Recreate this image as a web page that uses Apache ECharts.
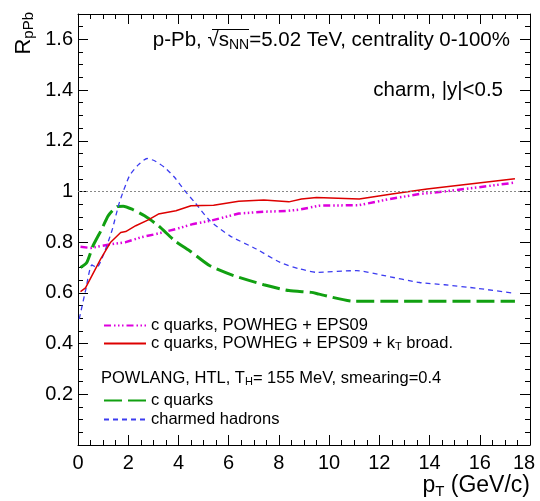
<!DOCTYPE html>
<html>
<head>
<meta charset="utf-8">
<script src="https://cdn.jsdelivr.net/npm/echarts@6/dist/echarts.min.js"></script>
<style>html,body{margin:0;padding:0;background:#fff;}#c{width:540px;height:501px;}</style>
</head>
<body>
<div id="c"></div>
<script>
// ---- data ----
var xTicks = [0, 2, 4, 6, 8, 10, 12, 14, 16, 18];
var yTicks = [0.2, 0.4, 0.6, 0.8, 1.0, 1.2, 1.4, 1.6];

var redPt = [0.1,0.3,0.9,1.3,1.7,1.9,2.3,2.8,3.2,3.9,4.5,5.4,6.4,7.4,8.4,8.9,9.5,11.2,12.5,13.9,17.4];
var redR  = [0.605,0.62,0.733,0.80,0.838,0.842,0.865,0.888,0.911,0.924,0.944,0.946,0.961,0.966,0.959,0.970,0.976,0.970,0.99,1.01,1.05];

var magPt = [0.1,0.5,1.2,1.9,2.5,3.1,3.9,4.6,5.3,6.4,7.4,8.3,8.8,9.6,11.2,12.4,13.6,14.6,15.9,17.4];
var magR  = [0.782,0.777,0.79,0.80,0.819,0.832,0.852,0.872,0.885,0.913,0.92,0.923,0.928,0.944,0.946,0.97,0.99,1.0,1.016,1.035];

var grnPt = [0.1,0.35,0.6,0.95,1.2,1.55,1.8,2.15,2.65,3.2,3.85,4.5,5.25,6.2,7.4,8.4,9.3,9.6,11.0,17.4];
var grnR  = [0.70,0.72,0.786,0.852,0.904,0.94,0.942,0.93,0.904,0.865,0.806,0.762,0.707,0.668,0.632,0.609,0.602,0.595,0.567,0.567];

var bluPt = [0.05,0.3,0.55,0.75,1.0,1.35,1.65,2.05,2.4,2.75,3.05,3.45,3.85,4.25,4.65,5.25,6.05,7.1,8.05,8.85,9.5,11.1,12.2,13.6,14.6,15.9,17.4];
var bluR  = [0.497,0.609,0.71,0.70,0.747,0.845,0.957,1.062,1.105,1.13,1.121,1.095,1.055,1.003,0.957,0.885,0.825,0.773,0.72,0.694,0.681,0.688,0.668,0.641,0.632,0.618,0.598];

var refLevel = 1.0;

var nameMag = 'c quarks, POWHEG + EPS09';
var nameRed = 'c quarks, POWHEG + EPS09 + kT broad.';
var nameGrn = 'c quarks';
var nameBlu = 'charmed hadrons';

function zip(a, b) { return a.map(function (v, i) { return [v, b[i]]; }); }

var FONT = 'Liberation Sans';
var chart = echarts.init(document.getElementById('c'), null, {renderer: 'canvas'});

function xAx(pos, interval, len, labels, line) {
  return {
    type: 'value', position: pos, min: 0, max: 18, interval: interval,
    axisLine: {show: line, onZero: false, lineStyle: {color: '#000', width: 1}},
    axisTick: {show: true, inside: true, length: len, lineStyle: {color: '#000', width: 1}},
    axisLabel: {show: labels, color: '#000', fontFamily: FONT, fontSize: 20, margin: 8,
      formatter: function (v) { return v === 18 ? '{r|18}' : String(v); },
      rich: {r: {fontFamily: FONT, fontSize: 20, color: '#000', padding: [0, 12, 0, 0]}}},
    splitLine: {show: false}
  };
}
function yAx(pos, interval, len, labels, line) {
  return {
    type: 'value', position: pos, min: 0, max: 1.7, interval: interval,
    axisLine: {show: line, onZero: false, lineStyle: {color: '#000', width: 1}},
    axisTick: {show: true, inside: true, length: len, lineStyle: {color: '#000', width: 1}},
    axisLabel: {show: labels, color: '#000', fontFamily: FONT, fontSize: 20, margin: 5,
      showMinLabel: false, showMaxLabel: false,
      formatter: function (v) { return yTicks.indexOf(Math.round(v * 10) / 10) >= 0 ? (Math.abs(v - 1) < 1e-9 ? '1' : v.toFixed(1)) : ''; }},
    splitLine: {show: false}
  };
}

var legendRich = {sub: {fontSize: 11, lineHeight: 2, verticalAlign: 'bottom', fontFamily: FONT, color: '#000'}};
var hideSym = {color: 'rgba(0,0,0,0)', borderWidth: 0, opacity: 0};

var option = {
  backgroundColor: '#fff',
  animation: false,
  grid: {left: 78, right: 10, top: 14, bottom: 56, containLabel: false},
  xAxis: [xAx('bottom', 2, 10, true, true), xAx('bottom', 0.5, 5, false, false),
          xAx('top', 2, 10, false, true), xAx('top', 0.5, 5, false, false)],
  yAxis: [yAx('left', 0.2, 10, true, true), yAx('left', 0.05, 5, false, false),
          yAx('right', 0.2, 10, false, true), yAx('right', 0.05, 5, false, false)],
  legend: [
    {data: [nameMag, nameRed], orient: 'vertical', left: 103, top: 317, padding: 0,
     itemWidth: 42, itemHeight: 14, itemGap: 1, itemStyle: hideSym,
     textStyle: {fontFamily: FONT, fontSize: 16.5, color: '#000', lineHeight: 17, rich: legendRich},
     formatter: function (n) { return n === nameRed ? 'c quarks, POWHEG + EPS09 + k{sub|T} broad.' : n; }},
    {data: [nameGrn, nameBlu], orient: 'vertical', left: 103, top: 392, padding: 0,
     itemWidth: 42, itemHeight: 14, itemGap: 2, itemStyle: hideSym,
     textStyle: {fontFamily: FONT, fontSize: 16.5, color: '#000', lineHeight: 17}}
  ],
  series: [
    {name: nameMag, type: 'line', data: zip(magPt, magR), showSymbol: false, symbol: 'none',
     lineStyle: {color: '#dd00dd', width: 2.5, type: [7, 3, 1.5, 2.5, 1.5, 2.5, 1.5, 3]}, itemStyle: {color: '#dd00dd'}, z: 3},
    {name: nameRed, type: 'line', data: zip(redPt, redR), showSymbol: false, symbol: 'none',
     lineStyle: {color: '#dd0000', width: 1.5, type: 'solid'}, itemStyle: {color: '#dd0000'}, z: 4,
     markLine: {silent: true, symbol: 'none', label: {show: false},
       lineStyle: {color: '#888', width: 1.2, type: [2, 2]}, data: [{yAxis: refLevel}]}},
    {name: nameGrn, type: 'line', data: zip(grnPt, grnR), showSymbol: false, symbol: 'none', smooth: 0.2,
     lineStyle: {color: '#11a011', width: 3, type: [18, 6]}, itemStyle: {color: '#11a011'}, z: 3},
    {name: nameBlu, type: 'line', data: zip(bluPt, bluR), showSymbol: false, symbol: 'none', smooth: 0.2,
     lineStyle: {color: '#3c3cf0', width: 1.3, type: [5, 4]}, itemStyle: {color: '#3c3cf0'}, z: 3}
  ],
  graphic: [
    {type: 'text', x: 510, y: 40, style: {
      text: 'p-Pb, √{o|s}{sub|NN}=5.02 TeV, centrality 0-100%',
      align: 'right', verticalAlign: 'middle', fontFamily: FONT, fontSize: 20.5, fill: '#000', lineHeight: 24,
      rich: {o: {fontSize: 20.5, fontFamily: FONT, lineHeight: 24},
             sub: {fontSize: 14, fontFamily: FONT, lineHeight: 4, verticalAlign: 'bottom'}}}},
    {type: 'line', shape: {x1: 212, y1: 29.5, x2: 249, y2: 29.5}, style: {stroke: '#000', lineWidth: 1}},
    {type: 'text', x: 503, y: 90, style: {
      text: 'charm, |y|<0.5', align: 'right', verticalAlign: 'middle', fontFamily: FONT, fontSize: 20.5, fill: '#000'}},
    {type: 'text', x: 101, y: 378, style: {
      text: 'POWLANG, HTL, T{sub|H}= 155 MeV, smearing=0.4', align: 'left', verticalAlign: 'middle',
      fontFamily: FONT, fontSize: 16.5, fill: '#000', lineHeight: 19,
      rich: {sub: {fontSize: 11, fontFamily: FONT, lineHeight: 2, verticalAlign: 'bottom'}}}},
    {type: 'text', x: 530, y: 486, style: {
      text: 'p{sub|T} (GeV/c)', align: 'right', verticalAlign: 'middle', fontFamily: FONT, fontSize: 23, fill: '#000', lineHeight: 26,
      rich: {sub: {fontSize: 15, fontFamily: FONT, lineHeight: 4, verticalAlign: 'bottom'}}}},
    {type: 'text', x: 36, y: 12, rotation: Math.PI / 2, style: {
      text: 'R{sub|pPb}', align: 'right', verticalAlign: 'bottom', fontFamily: FONT, fontSize: 22, fill: '#000', lineHeight: 25,
      rich: {sub: {fontSize: 15, fontFamily: FONT, lineHeight: 4, verticalAlign: 'bottom'}}}}
  ]
};
chart.setOption(option);
</script>
</body>
</html>
